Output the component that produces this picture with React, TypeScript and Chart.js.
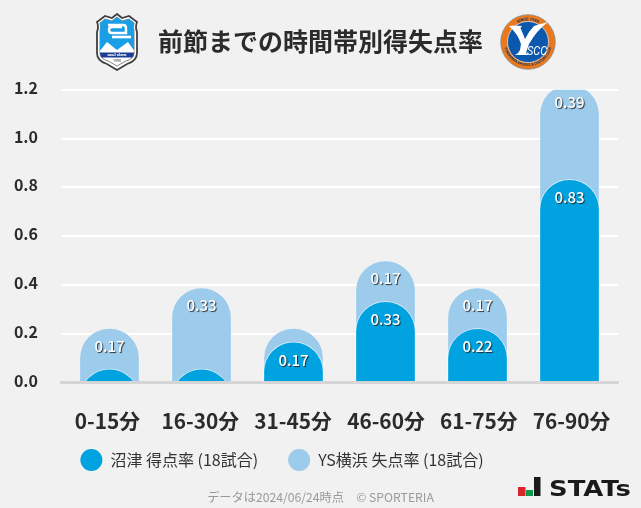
import React, { useEffect, useRef } from "react";
import { Chart, registerables } from "chart.js";

Chart.register(...registerables);

const categories = ["0-15分", "16-30分", "31-45分", "46-60分", "61-75分", "76-90分"];
const homeScoreRate = [0.056, 0.056, 0.167, 0.333, 0.222, 0.833];
const awayConcedeRate = [0.167, 0.333, 0.056, 0.167, 0.167, 0.389];
const homeLabel = "沼津 得点率 (18試合)";
const awayLabel = "YS横浜 失点率 (18試合)";
const yTicks = [0, 0.2, 0.4, 0.6, 0.8, 1.0, 1.2];
const chartTitle = "前節までの時間帯別得失点率";
const footerText = "データは2024/06/24時点　© SPORTERIA";

const FONT = '"Noto Sans CJK JP", "Noto Sans", sans-serif';
const DARK = "#00a3e0";
const LIGHT = "#9ccbec";
const BG = "#f1f1f1";
const INK = "#2b2b2b";

const layoutTweaks = {
  id: "layoutTweaks",
  afterLayout(chart: any) {
    chart.titleBlock.left = 0;
    chart.titleBlock.right = 641;
    chart.legend.left = 0;
    chart.legend.right = 564;
    chart.legend.top -= 20;
    chart.legend.bottom -= 20;
  },
};

const barLabels = {
  id: "barLabels",
  afterDatasetsDraw(chart: any) {
    const ctx = chart.ctx;
    ctx.save();
    ctx.font = `500 15px ${FONT}`;
    ctx.textAlign = "center";
    ctx.textBaseline = "middle";
    ctx.fillStyle = "#ffffff";
    ctx.shadowColor = "rgba(30,30,30,0.85)";
    ctx.shadowOffsetX = 1;
    ctx.shadowOffsetY = 1;
    ctx.shadowBlur = 0.8;
    [homeScoreRate, awayConcedeRate].forEach((values, di) => {
      chart.getDatasetMeta(di).data.forEach((el: any, i: number) => {
        if (values[i] < 0.1) return;
        ctx.fillText(values[i].toFixed(2), el.x, el.y + 18);
      });
    });
    ctx.restore();
  },
};

function ShieldLogo() {
  const outer = "M22 1 L27 5 L34 3 L42 9 Q40 14 42 19 L42 40 Q42 48 32 51 L22 57 L12 51 Q2 48 2 40 L2 19 Q4 14 2 9 L10 3 L17 5 Z";
  const inner = "M22 4 L27 8 L34 6 L39 10 Q38 14 39 19 L39 40 Q39 46 31 48 L22 53 L13 48 Q5 46 5 40 L5 19 Q6 14 5 10 L10 6 L17 8 Z";
  return (
    <svg width="44" height="58" viewBox="0 0 44 58" style={{ position: "absolute", left: 95, top: 13 }}>
      <defs>
        <clipPath id="shieldInner"><path d={inner} /></clipPath>
      </defs>
      <path d={outer} fill="#fff" stroke="#3f3f3f" strokeWidth="1.8" />
      <path d={inner} fill="#fff" stroke="#666" strokeWidth="0.8" />
      <g clipPath="url(#shieldInner)">
        <rect x="4" y="3" width="36" height="36" fill="#1a9fe6" />
        <path d="M4 39 L12 29 L22 37 L33 29 L40 39 Z" fill="#fff" />
        <rect x="4" y="39.5" width="36" height="5" fill="#1c3f94" />
      </g>
      <path d="M13 12 H28 Q31 12 31 15 V20 H17 Q14 20 14 17 Q14 14 17 14 H27" fill="none" stroke="#fff" strokeWidth="2.4" />
      <path d="M17 24 H36" stroke="#fff" strokeWidth="2.6" />
      <text x="22" y="43.4" fontSize="4.4" fontWeight="700" fill="#fff" textAnchor="middle" fontFamily="Roboto, sans-serif">azul claro</text>
      <text x="22" y="48.6" fontSize="3.6" fill="#333" textAnchor="middle" fontFamily="Roboto, sans-serif">1990</text>
    </svg>
  );
}

function RoundLogo() {
  return (
    <svg width="56" height="56" viewBox="0 0 56 56" style={{ position: "absolute", left: 500, top: 14 }}>
      <circle cx="28" cy="28" r="27.3" fill="#e9791c" stroke="#8a8f98" strokeWidth="0.8" />
      <circle cx="28" cy="28" r="20.5" fill="#0b58ad" stroke="#fff" strokeWidth="0.6" />
      <defs>
        <path id="ringTop" d="M6.5 28 A21.5 21.5 0 0 1 49.5 28" />
        <path id="ringBottom" d="M4 28 A24 24 0 0 0 52 28" />
      </defs>
      <text fontSize="4" fill="#12305f" fontFamily="Roboto, sans-serif" fontWeight="700">
        <textPath href="#ringTop" startOffset="50%" textAnchor="middle">SINCE 1986</textPath>
      </text>
      <text fontSize="3.6" fill="#12305f" fontFamily="Roboto, sans-serif" fontWeight="700">
        <textPath href="#ringBottom" startOffset="50%" textAnchor="middle">YOKOHAMA SPORTS &amp; CULTURE CLUB</textPath>
      </text>
      <path d="M9 12 Q15 11 22 12 L20.5 14 Q23 20 25 25 Q29 17 34 12 Q40 10 48 8 Q37 16 29 30 L26 39 L29 41 L15 41 Q19 39 20 36 L21 30 Q18 20 9 12 Z" fill="#fff" />
      <text x="27" y="40.5" fontSize="12.5" fontStyle="italic" fontWeight="400" fill="#fff" textLength="20" lengthAdjust="spacingAndGlyphs" fontFamily="Roboto, sans-serif">SCC</text>
    </svg>
  );
}

function StatsLogo() {
  return (
    <svg width="120" height="24" viewBox="0 0 120 24" style={{ position: "absolute", left: 516, top: 475 }}>
      <rect x="2" y="12" width="7.5" height="9" fill="#d9252a" />
      <rect x="10" y="15" width="7" height="6" fill="#0e9a48" />
      <rect x="18" y="2" width="6.5" height="19" fill="#1a1a1a" />
      <text x="33" y="20.5" fontSize="22" fontWeight="700" fill="#1a1a1a" textLength="82" lengthAdjust="spacingAndGlyphs" fontFamily="'DejaVu Sans', sans-serif">STATs</text>
    </svg>
  );
}

export default function App() {
  const ref = useRef<HTMLCanvasElement>(null);

  useEffect(() => {
    if (!ref.current) return;
    const chart = new Chart(ref.current, {
      type: "bar",
      data: {
        labels: categories,
        datasets: [
          {
            label: homeLabel,
            xAxisID: "barX",
            data: homeScoreRate.map((y, x) => ({ x, y })),
            backgroundColor: DARK,
            borderColor: "rgba(255,255,255,0.6)",
          },
          {
            label: awayLabel,
            xAxisID: "barX",
            data: awayConcedeRate.map((v, x) => ({ x, y: v + homeScoreRate[x] })),
            backgroundColor: LIGHT,
            borderColor: "rgba(255,255,255,0.2)",
          },
        ] as any,
      },
      options: {
        responsive: false,
        animation: false,
        layout: { padding: { left: 0, right: 23, top: 0, bottom: 10 } },
        datasets: {
          bar: {
            grouped: false,
            base: -1,
            barThickness: 60,
            borderWidth: 1,
            borderRadius: 30,
            borderSkipped: "bottom",
          },
        } as any,
        scales: {
          x: {
            type: "category",
            position: "bottom",
            offset: true,
            grid: { display: false },
            border: { display: true, color: "#d5d5d5", width: 3, z: 1 },
            ticks: {
              color: INK,
              font: { family: FONT, size: 20.8, weight: "bold" },
              padding: 18,
              maxRotation: 0,
              autoSkip: false,
            },
            afterFit: (s: any) => {
              s.height = 59.4;
            },
          },
          barX: {
            type: "linear",
            axis: "x",
            position: "bottom",
            display: false,
            offset: false,
            min: -0.527,
            max: 5.527,
          },
          y: {
            min: 0,
            max: 1.2,
            border: { display: false },
            grid: {
              drawTicks: false,
              lineWidth: 2,
              color: (c: any) => (c.tick.value === 0 ? "transparent" : "#ffffff"),
            },
            afterBuildTicks: (s: any) => {
              s.ticks = yTicks.map((value) => ({ value }));
            },
            ticks: {
              color: INK,
              padding: 23,
              labelOffset: -2,
              font: { family: FONT, size: 16, weight: "bold" },
              callback: (v: any) => Number(v).toFixed(1),
            },
            afterFit: (s: any) => {
              s.width = 61;
            },
          },
        } as any,
        plugins: {
          title: {
            display: true,
            text: chartTitle,
            color: INK,
            font: { family: FONT, size: 25, weight: "bold", lineHeight: 1.2 },
            padding: { top: 26, bottom: 33.8 },
          },
          legend: {
            display: true,
            position: "bottom",
            labels: {
              usePointStyle: true,
              pointStyleWidth: 22,
              boxHeight: 15.5,
              padding: 30,
              color: "#333333",
              font: { family: FONT, size: 16 },
              generateLabels: (c: any) =>
                c.data.datasets.map((d: any, i: number) => ({
                  text: d.label,
                  fillStyle: d.backgroundColor,
                  strokeStyle: "transparent",
                  lineWidth: 0,
                  pointStyle: "circle",
                  fontColor: "#333333",
                  datasetIndex: i,
                })),
            },
          },
          tooltip: { enabled: false },
        },
      } as any,
      plugins: [layoutTweaks, barLabels],
    });
    return () => chart.destroy();
  }, []);

  return (
    <div style={{ position: "absolute", left: 0, top: 0, width: 641, height: 508, background: BG, overflow: "hidden" }}>
      <canvas ref={ref} width={641} height={508} style={{ display: "block" }} />
      <ShieldLogo />
      <RoundLogo />
      <StatsLogo />
      <div style={{ position: "absolute", left: 0, width: 641, top: 488, textAlign: "center", fontFamily: FONT, fontSize: 12.2, lineHeight: "18px", color: "#999999" }}>
        {footerText}
      </div>
    </div>
  );
}
